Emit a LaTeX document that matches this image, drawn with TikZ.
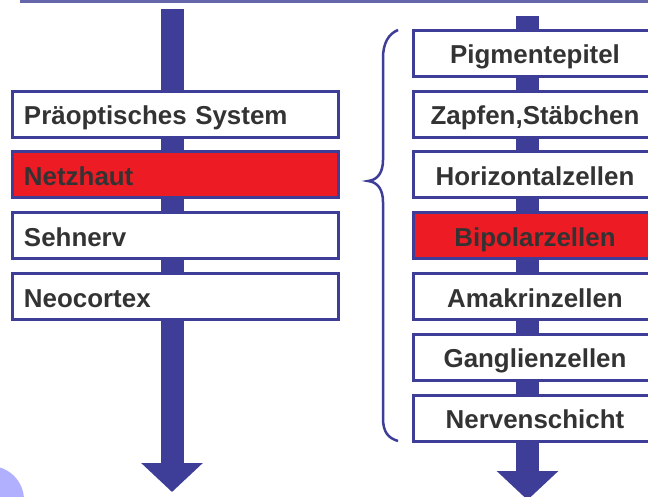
\documentclass[tikz,border=0pt]{standalone}
\usepackage{fontspec}
\setmainfont{Liberation Sans}
\usepackage{tikz}
\usetikzlibrary{arrows.meta}
\definecolor{stageblue}{RGB}{62,62,152}
\definecolor{stagered}{RGB}{237,28,36}
\definecolor{stagetext}{RGB}{51,51,51}
\definecolor{bandlilac}{RGB}{102,102,170}
\definecolor{dotlilac}{RGB}{176,176,255}

\begin{document}
\begin{tikzpicture}[x=1bp, y=-1bp,
      stage/.style={draw=stageblue, line width=3bp, fill=white, text=stagetext,
                  minimum height=46bp, inner ysep=0pt, text height=21bp, text depth=0pt,
                  font=\fontsize{26}{28}\selectfont\bfseries},
      leftbox/.style={stage, inner xsep=11.5bp, text width=303bp, align=left},
      rightbox/.style={stage, inner xsep=0pt, minimum width=243bp, align=center},
      hot/.style={fill=stagered},
      shaft/.style={stageblue, line width=23bp, -{Triangle[length=29bp, width=60bp]}},
      brace/.style={stageblue, line width=2.5bp}
    ]
    \useasboundingbox (0,0) rectangle (648,497);
    \clip (0,0) rectangle (648,497);

    % slide decoration
    \fill[bandlilac] (20,0) rectangle (648,3);
    \fill[dotlilac] (-10,500) circle (34);

    % the two flows
    \coordinate (ltop) at (172,9);
    \coordinate (lend) at (172,492);
    \coordinate (rtop) at (527.5,16);
    \coordinate (rend) at (527.5,500);
    \draw[shaft] (ltop) -- (lend);
    \draw[shaft] (rtop) -- (rend);

    % left column
    \node[leftbox] (praeop) at (175.5,114.25) {Präoptisches System};
    \node[leftbox, hot] (netz) at (175.5,175) {Netzhaut};
    \node[leftbox] (sehnerv) at (175.5,235.75) {Sehnerv};
    \node[leftbox] (neo) at (175.5,296.5) {Neocortex};

    % right column
    \node[rightbox] (pigment) at (535,53.5) {Pigmentepitel};
    \node[rightbox] (zapfen) at (535,114.25) {Zapfen,Stäbchen};
    \node[rightbox] (horiz) at (535,175) {Horizontalzellen};
    \node[rightbox, hot] (bipol) at (535,235.75) {Bipolarzellen};
    \node[rightbox] (amakrin) at (535,296.5) {Amakrinzellen};
    \node[rightbox] (gangl) at (535,357.25) {Ganglienzellen};
    \node[rightbox] (nerv) at (535,418) {Nervenschicht};

    % brace
    \draw[brace] (398,30) .. controls (388,34) and (383,44) .. (383,58)
      -- (383,160) .. controls (383,172) and (378,180) .. (368,181)
      .. controls (378,182) and (383,190) .. (383,202)
      -- (383,418) .. controls (383,432) and (388,438) .. (398,441);
  \end{tikzpicture}
\end{document}
